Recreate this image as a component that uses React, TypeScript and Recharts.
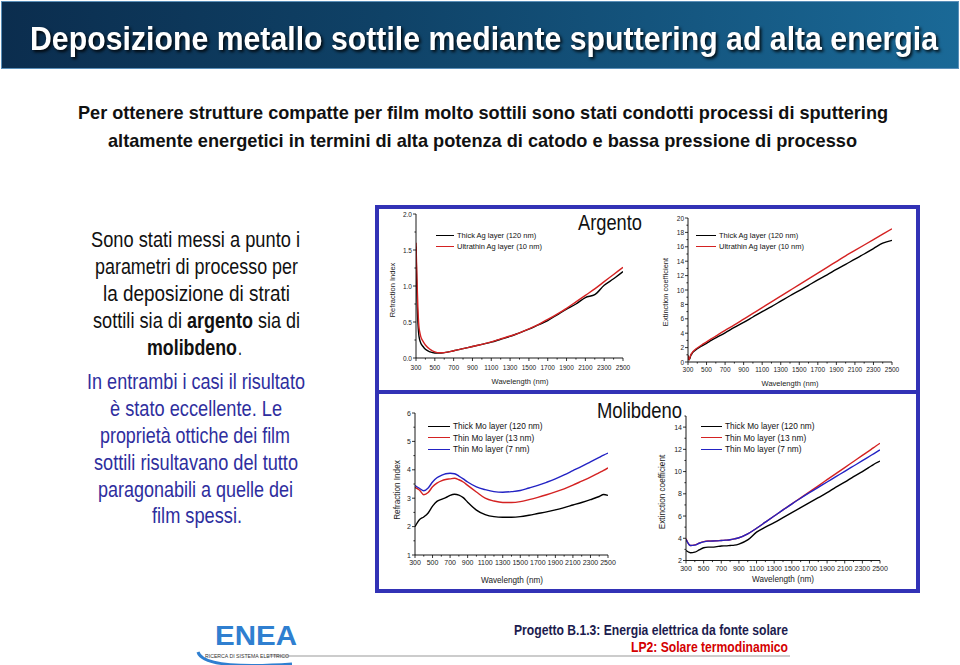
import React from "react";
import { LineChart, Line, XAxis, YAxis, Legend } from "recharts";

// ---- shared axis data ----
const WL_TICKS = [300, 400, 500, 600, 700, 800, 900, 1000, 1100, 1200, 1300, 1400, 1500, 1600, 1700, 1800, 1900, 2000, 2100, 2200, 2300, 2400, 2500];
const WL_LABELED = [300, 500, 700, 900, 1100, 1300, 1500, 1700, 1900, 2100, 2300, 2500];

// ---- silver (Argento) ----
const AG_WL = [300, 310, 320, 330, 340, 350, 375, 400, 450, 500, 550, 600, 700, 800, 900, 1000, 1100, 1200, 1300, 1400, 1500, 1600, 1700, 1800, 1900, 2000, 2100, 2200, 2300, 2400, 2500];
const AG_N_THICK = [1.55, 0.9, 0.5, 0.32, 0.25, 0.21, 0.16, 0.12, 0.085, 0.07, 0.068, 0.075, 0.1, 0.13, 0.16, 0.19, 0.22, 0.26, 0.3, 0.35, 0.4, 0.46, 0.52, 0.6, 0.68, 0.75, 0.84, 0.88, 1.01, 1.1, 1.2];
const AG_N_THIN = [1.6, 1.1, 0.7, 0.45, 0.36, 0.3, 0.23, 0.18, 0.12, 0.085, 0.072, 0.075, 0.1, 0.13, 0.16, 0.19, 0.225, 0.265, 0.305, 0.35, 0.405, 0.465, 0.535, 0.61, 0.69, 0.78, 0.87, 0.96, 1.06, 1.16, 1.26];
const AG_K_THICK = [0.9, 0.3, 0.5, 0.9, 1.1, 1.3, 1.6, 1.85, 2.25, 2.6, 3.0, 3.35, 4.05, 4.8, 5.5, 6.25, 7.0, 7.7, 8.45, 9.2, 9.9, 10.65, 11.4, 12.1, 12.85, 13.55, 14.3, 15.0, 15.75, 16.5, 16.9];
const AG_K_THIN = [0.9, 0.3, 0.6, 1.0, 1.2, 1.4, 1.7, 1.95, 2.4, 2.8, 3.2, 3.6, 4.4, 5.15, 5.95, 6.75, 7.55, 8.35, 9.15, 9.95, 10.75, 11.55, 12.35, 13.15, 13.95, 14.75, 15.5, 16.25, 17.0, 17.75, 18.5];

// ---- molybdenum (Molibdeno) ----
const MO_WL = [300, 350, 400, 450, 500, 550, 600, 650, 700, 750, 800, 850, 900, 1000, 1100, 1200, 1300, 1400, 1500, 1600, 1700, 1800, 1900, 2000, 2100, 2200, 2300, 2400, 2450, 2500];
const MO_N_THICK = [2.0, 2.24, 2.34, 2.48, 2.72, 2.89, 2.96, 3.02, 3.1, 3.14, 3.11, 3.02, 2.86, 2.58, 2.42, 2.35, 2.33, 2.33, 2.35, 2.4, 2.46, 2.52, 2.59, 2.67, 2.76, 2.85, 2.95, 3.06, 3.13, 3.1];
const MO_N_13 = [3.38, 3.29, 3.12, 3.2, 3.4, 3.53, 3.61, 3.66, 3.68, 3.7, 3.65, 3.57, 3.45, 3.22, 3.0, 2.9, 2.85, 2.85, 2.88, 2.95, 3.03, 3.12, 3.22, 3.33, 3.46, 3.6, 3.74, 3.9, 3.98, 4.07];
const MO_N_7 = [3.45, 3.35, 3.26, 3.36, 3.57, 3.72, 3.8, 3.86, 3.88, 3.86, 3.78, 3.68, 3.57, 3.4, 3.3, 3.23, 3.21, 3.23, 3.27, 3.36, 3.45, 3.56, 3.68, 3.82, 3.97, 4.12, 4.28, 4.44, 4.52, 4.59];
const MO_K_THICK = [2.9, 2.7, 2.75, 2.95, 3.15, 3.2, 3.2, 3.25, 3.3, 3.32, 3.35, 3.38, 3.48, 3.85, 4.55, 5.0, 5.4, 5.85, 6.3, 6.75, 7.2, 7.65, 8.1, 8.6, 9.05, 9.55, 10.0, 10.5, 10.75, 10.95];
const MO_K_13 = [3.96, 3.35, 3.4, 3.57, 3.7, 3.75, 3.76, 3.78, 3.8, 3.83, 3.87, 3.95, 4.05, 4.4, 4.9, 5.45, 6.0, 6.55, 7.1, 7.64, 8.18, 8.72, 9.27, 9.82, 10.36, 10.91, 11.46, 12.0, 12.28, 12.55];
const MO_K_7 = [3.9, 3.35, 3.38, 3.55, 3.68, 3.74, 3.75, 3.77, 3.8, 3.83, 3.87, 3.95, 4.05, 4.4, 4.9, 5.45, 6.0, 6.55, 7.08, 7.6, 8.1, 8.58, 9.06, 9.54, 10.02, 10.5, 10.98, 11.47, 11.71, 11.95];

const AG_N_TICKS = [0, 0.25, 0.5, 0.75, 1, 1.25, 1.5, 1.75, 2];
const AG_N_LABELED = [0, 0.5, 1, 1.5, 2];
const AG_K_TICKS = [0, 1, 2, 3, 4, 5, 6, 7, 8, 9, 10, 11, 12, 13, 14, 15, 16, 17, 18, 19, 20];
const AG_K_LABELED = [0, 2, 4, 6, 8, 10, 12, 14, 16, 18, 20];
const MO_N_TICKS = [1, 1.5, 2, 2.5, 3, 3.5, 4, 4.5, 5, 5.5, 6];
const MO_N_LABELED = [1, 2, 3, 4, 5, 6];
const MO_K_TICKS = [2, 3, 4, 5, 6, 7, 8, 9, 10, 11, 12, 13, 14, 15];
const MO_K_LABELED = [2, 4, 6, 8, 10, 12, 14];

const BLACK = "#000000";
const RED = "#d42222";
const BLUE = "#2323c4";

const SANS = "'Liberation Sans', Arial, sans-serif";

const agN = AG_WL.map((w, i) => ({ w, thick: AG_N_THICK[i], thin: AG_N_THIN[i] }));
const agK = AG_WL.map((w, i) => ({ w, thick: AG_K_THICK[i], thin: AG_K_THIN[i] }));
const moN = MO_WL.map((w, i) => ({ w, thick: MO_N_THICK[i], t13: MO_N_13[i], t7: MO_N_7[i] }));
const moK = MO_WL.map((w, i) => ({ w, thick: MO_K_THICK[i], t13: MO_K_13[i], t7: MO_K_7[i] }));

const agSeries = [
  { key: "thick", name: "Thick Ag layer (120 nm)", color: BLACK },
  { key: "thin", name: "Ultrathin Ag layer (10 nm)", color: RED },
];
const moSeries = [
  { key: "thick", name: "Thick Mo layer (120 nm)", color: BLACK },
  { key: "t13", name: "Thin Mo layer (13 nm)", color: RED },
  { key: "t7", name: "Thin Mo layer (7 nm)", color: BLUE },
];

function LegendBox({ payload, font, row, swatch }: any) {
  return (
    <div style={{ fontFamily: SANS, fontSize: font, color: "#111" }}>
      {(payload || []).map((p: any) => (
        <div key={p.value} style={{ display: "flex", alignItems: "center", height: row, whiteSpace: "nowrap" }}>
          <span style={{ display: "inline-block", width: swatch, borderTop: `1.5px solid ${p.color}`, marginRight: 3 }} />
          <span>{p.value}</span>
        </div>
      ))}
    </div>
  );
}

function SpectrumChart(props: any) {
  const { left, top, width, height, margin, yWidth, xHeight, rows, series, yDomain, yTicks, yLabeled, yDigits, xLabelDy, tickFont, legend } = props;

  const xTick = ({ x, y, payload }: any) => {
    const major = WL_LABELED.includes(payload.value);
    return (
      <g>
        <line x1={x} x2={x} y1={y} y2={y + (major ? 3 : 1.6)} stroke="#000" strokeWidth={0.8} />
        {major && (
          <text x={x} y={y + xLabelDy} textAnchor="middle" dominantBaseline="central" fontSize={tickFont} fontFamily={SANS} fill="#222">
            {payload.value}
          </text>
        )}
      </g>
    );
  };

  const yTick = ({ x, y, payload }: any) => {
    const major = yLabeled.includes(payload.value);
    return (
      <g>
        <line x1={x} x2={x - (major ? 3 : 1.6)} y1={y} y2={y} stroke="#000" strokeWidth={0.8} />
        {major && (
          <text x={x - 4} y={y} textAnchor="end" dominantBaseline="central" fontSize={tickFont} fontFamily={SANS} fill="#222">
            {payload.value.toFixed(yDigits)}
          </text>
        )}
      </g>
    );
  };

  return (
    <div style={{ position: "absolute", left, top, width, height }}>
      <LineChart width={width} height={height} data={rows} margin={margin}>
        <XAxis
          type="number"
          dataKey="w"
          domain={[300, 2500]}
          ticks={WL_TICKS}
          interval={0}
          tickSize={0}
          tickMargin={0}
          tickLine={false}
          tick={xTick}
          height={xHeight}
          axisLine={{ stroke: "#000", strokeWidth: 0.9 }}
          allowDataOverflow
        />
        <YAxis
          type="number"
          domain={yDomain}
          ticks={yTicks}
          interval={0}
          tickSize={0}
          tickMargin={0}
          tickLine={false}
          tick={yTick}
          width={yWidth}
          axisLine={{ stroke: "#000", strokeWidth: 0.9 }}
          allowDataOverflow
        />
        <Legend
          layout="vertical"
          align="center"
          verticalAlign="middle"
          wrapperStyle={{ left: legend.x, top: legend.y, width: "auto", height: "auto" }}
          content={(p: any) => <LegendBox payload={p.payload} font={legend.font} row={legend.row} swatch={legend.swatch} />}
        />
        {series.map((s: any) => (
          <Line
            key={s.key}
            dataKey={s.key}
            name={s.name}
            stroke={s.color}
            strokeWidth={1.4}
            dot={false}
            type="monotone"
            isAnimationActive={false}
          />
        ))}
      </LineChart>
    </div>
  );
}

// slide text: the slide uses a narrow face, so squeeze horizontally to the measured width
function Fit({ x, y, w, size, sx = 0.83, anchor = "middle", weight, fill = "#111", children, style }: any) {
  return (
    <g transform={`translate(${x} ${y}) scale(${sx} 1)`}>
      <text
        x={0}
        y={0}
        textAnchor={anchor}
        fontFamily={SANS}
        fontSize={size}
        fontWeight={weight}
        fill={fill}
        textLength={w / sx}
        lengthAdjust="spacingAndGlyphs"
        style={style}
      >
        {children}
      </text>
    </g>
  );
}

function Overlay() {
  const blue = "#2e2e9e";
  return (
    <svg width={960} height={665} style={{ position: "absolute", left: 0, top: 0, pointerEvents: "none" }}>
      {/* title */}
      <Fit x={484} y={50} w={908} size={34} sx={0.9} weight="bold" fill="#ffffff" style={{ filter: "drop-shadow(2px 2px 1.5px rgba(0,0,0,0.85))" }}>
        Deposizione metallo sottile mediante sputtering ad alta energia
      </Fit>

      {/* subtitle */}
      <Fit x={483} y={119} w={810} size={19} sx={0.95} weight="bold">
        Per ottenere strutture compatte per film molto sottili sono stati condotti processi di sputtering
      </Fit>
      <Fit x={482.5} y={147} w={749} size={19} sx={0.95} weight="bold">
        altamente energetici in termini di alta potenza di catodo e bassa pressione di processo
      </Fit>

      {/* left column */}
      <Fit x={195.5} y={247} w={209} size={22}>Sono stati messi a punto i</Fit>
      <Fit x={196.5} y={274} w={203} size={22}>parametri di processo per</Fit>
      <Fit x={196.5} y={301} w={187} size={22}>la deposizione di strati</Fit>
      <Fit x={93} y={328} w={89} size={22} anchor="start">sottili sia di</Fit>
      <Fit x={187} y={328} w={66} size={22} anchor="start" weight="bold">argento</Fit>
      <Fit x={258} y={328} w={42} size={22} anchor="start">sia di</Fit>
      <Fit x={147} y={355} w={90} size={22} anchor="start" weight="bold">molibdeno</Fit>
      <Fit x={238} y={355} w={4} size={22} sx={1} anchor="start">.</Fit>

      <Fit x={196} y={389} w={218} size={22} fill={blue}>In entrambi i casi il risultato</Fit>
      <Fit x={196} y={416} w={172} size={22} fill={blue}>è stato eccellente. Le</Fit>
      <Fit x={195} y={443} w={190} size={22} fill={blue}>proprietà ottiche dei film</Fit>
      <Fit x={196} y={470} w={204} size={22} fill={blue}>sottili risultavano del tutto</Fit>
      <Fit x={195.5} y={497} w={195} size={22} fill={blue}>paragonabili a quelle dei</Fit>
      <Fit x={197} y={523} w={90} size={22} fill={blue}>film spessi.</Fit>

      {/* panel names */}
      <Fit x={610} y={230} w={64} size={22}>Argento</Fit>
      <Fit x={639.5} y={418} w={85} size={22}>Molibdeno</Fit>

      {/* axis titles */}
      <g fontFamily={SANS} fill="#222" textAnchor="middle" dominantBaseline="central">
        <text x={392} y={290} fontSize={7.5} transform="rotate(-90 392 290)">Refraction Index</text>
        <text x={520} y={381} fontSize={7.5}>Wavelength (nm)</text>
        <text x={665} y={292} fontSize={7.5} transform="rotate(-90 665 292)">Extinction coefficient</text>
        <text x={790} y={383} fontSize={7.5}>Wavelength (nm)</text>
        <text x={397} y={490} fontSize={8.2} transform="rotate(-90 397 490)">Refraction Index</text>
        <text x={512} y={580} fontSize={8.2}>Wavelength (nm)</text>
        <text x={662} y={492} fontSize={8.2} transform="rotate(-90 662 492)">Extinction coefficient</text>
        <text x={783} y={579} fontSize={8.2}>Wavelength (nm)</text>
      </g>

      {/* footer */}
      <line x1={268} x2={790} y1={656} y2={656} stroke="#9a9a9a" strokeWidth={1.2} />
      <Fit x={788} y={635} w={274} size={15} sx={0.81} anchor="end" weight="bold" fill="#1c1c4e">
        Progetto B.1.3: Energia elettrica da fonte solare
      </Fit>
      <Fit x={788} y={652} w={157} size={15} sx={0.81} anchor="end" weight="bold" fill="#d40000">
        LP2: Solare termodinamico
      </Fit>

      {/* ENEA logo */}
      <Fit x={215} y={645} w={82} size={28} sx={1} anchor="start" weight="bold" fill="#2f7fd0">ENEA</Fit>
      <Fit x={205} y={658} w={84} size={5.6} sx={1} anchor="start" fill="#333">RICERCA DI SISTEMA ELETTRICO</Fit>
      <path d="M 198 652 Q 203 670 292 664" fill="none" stroke="#2f7fd0" strokeWidth={3} />
    </svg>
  );
}

export default function App() {
  return (
    <div style={{ position: "absolute", left: 0, top: 0, width: 960, height: 665, background: "#ffffff", overflow: "hidden" }}>
      {/* header band */}
      <div
        style={{
          position: "absolute",
          left: 1,
          top: 1,
          width: 956,
          height: 66,
          background: "linear-gradient(90deg, #0b2d4e 0%, #0f4267 40%, #1a6997 100%)",
          border: "1.5px solid #5a8fb9",
        }}
      />

      <SpectrumChart
        left={380}
        top={206}
        width={270}
        height={186}
        margin={{ top: 8, right: 27, bottom: 4, left: 0 }}
        yWidth={36}
        xHeight={30}
        rows={agN}
        series={agSeries}
        yDomain={[0, 2]}
        yTicks={AG_N_TICKS}
        yLabeled={AG_N_LABELED}
        yDigits={1}
        xLabelDy={9}
        tickFont={6.5}
        legend={{ x: 56, y: 23.5, font: 7.5, row: 11, swatch: 18 }}
      />
      <SpectrumChart
        left={655}
        top={206}
        width={260}
        height={186}
        margin={{ top: 12, right: 23, bottom: 4, left: 0 }}
        yWidth={33}
        xHeight={26}
        rows={agK}
        series={agSeries}
        yDomain={[0, 20]}
        yTicks={AG_K_TICKS}
        yLabeled={AG_K_LABELED}
        yDigits={0}
        xLabelDy={7.5}
        tickFont={6.5}
        legend={{ x: 41, y: 23.5, font: 7.5, row: 11, swatch: 20 }}
      />
      <SpectrumChart
        left={380}
        top={395}
        width={260}
        height={195}
        margin={{ top: 18, right: 32, bottom: 5, left: 0 }}
        yWidth={35}
        xHeight={30}
        rows={moN}
        series={moSeries}
        yDomain={[1, 6]}
        yTicks={MO_N_TICKS}
        yLabeled={MO_N_LABELED}
        yDigits={0}
        xLabelDy={7.5}
        tickFont={7}
        legend={{ x: 48, y: 25.25, font: 8.3, row: 11.5, swatch: 22 }}
      />
      <SpectrumChart
        left={650}
        top={395}
        width={265}
        height={195}
        margin={{ top: 21, right: 35, bottom: 3.5, left: 0 }}
        yWidth={36}
        xHeight={26}
        rows={moK}
        series={moSeries}
        yDomain={[2, 15]}
        yTicks={MO_K_TICKS}
        yLabeled={MO_K_LABELED}
        yDigits={0}
        xLabelDy={7.5}
        tickFont={7}
        legend={{ x: 51, y: 25.25, font: 8.3, row: 11.5, swatch: 21 }}
      />

      {/* blue frame around the four plots */}
      <div
        style={{
          position: "absolute",
          left: 375,
          top: 205,
          width: 545,
          height: 388,
          boxSizing: "border-box",
          border: "4px solid #3232b6",
          pointerEvents: "none",
        }}
      />
      <div style={{ position: "absolute", left: 375, top: 390, width: 545, height: 4, background: "#3232b6" }} />

      <Overlay />
    </div>
  );
}
